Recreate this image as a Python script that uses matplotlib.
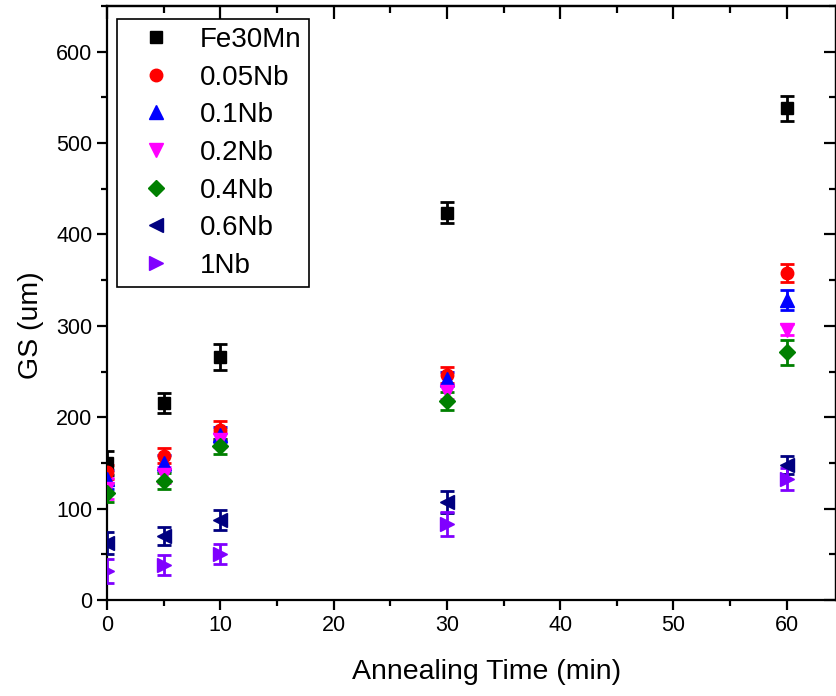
import matplotlib
matplotlib.use('Agg')
import matplotlib.pyplot as plt
from matplotlib.ticker import MultipleLocator

plt.rcParams['font.family'] = ['Liberation Sans', 'DejaVu Sans']

# temps de recuit (min)
times = [0, 5, 10, 30, 60]

# taille de grain (um) et barres d'erreur
labels = ['Fe30Mn', '0.05Nb', '0.1Nb', '0.2Nb', '0.4Nb', '0.6Nb', '1Nb']
gs_fe30mn = [150, 216, 266, 424, 538]
err_fe30mn = [13, 11, 14, 11, 14]
gs_005nb = [140, 158, 186, 246, 358]
err_005nb = [8, 8, 10, 9, 10]
gs_01nb = [132, 150, 181, 242, 328]
err_01nb = [10, 9, 8, 8, 11]
gs_02nb = [122, 137, 175, 228, 296]
err_02nb = [12, 9, 8, 8, 6]
gs_04nb = [117, 130, 168, 218, 271]
err_04nb = [10, 9, 8, 10, 14]
gs_06nb = [62, 70, 88, 107, 148]
err_06nb = [12, 10, 11, 12, 10]
gs_1nb = [32, 38, 50, 83, 132]
err_1nb = [13, 11, 11, 13, 12]

series = [gs_fe30mn, gs_005nb, gs_01nb, gs_02nb, gs_04nb, gs_06nb, gs_1nb]
errors = [err_fe30mn, err_005nb, err_01nb, err_02nb, err_04nb, err_06nb, err_1nb]
colors = ['black', '#FF0000', '#0000FF', '#FF00FF', '#008000', '#000080', '#8000FF']
markers = ['s', 'o', '^', 'v', 'D', '<', '>']
sizes = [8.5, 9, 9.5, 9.5, 8, 9.5, 9.5]

fig = plt.figure(figsize=(8.37, 6.96), dpi=100)
ax = fig.add_axes([107/837, 96/696, 729/837, 594/696])

for y, e, c, m, s, lab in zip(series, errors, colors, markers, sizes, labels):
    ax.errorbar(times, y, yerr=e, fmt=m, color=c, ms=s, capsize=5,
                capthick=2, elinewidth=2, label=lab, zorder=3)

ax.set_xlim(0, 64.35)
ax.set_ylim(0, 650)
ax.xaxis.set_major_locator(MultipleLocator(10))
ax.xaxis.set_minor_locator(MultipleLocator(5))
ax.yaxis.set_major_locator(MultipleLocator(100))
ax.yaxis.set_minor_locator(MultipleLocator(50))

for sp in ax.spines.values():
    sp.set_linewidth(1.6)
ax.tick_params(which='both', direction='out', width=1.6, labelsize=15.5,
               top=False, right=False)
ax.tick_params(which='major', length=7)
ax.tick_params(which='minor', length=4)

# ticks intérieurs en haut et à droite
ax2 = ax.secondary_xaxis('top')
ax2.xaxis.set_major_locator(MultipleLocator(10))
ax2.xaxis.set_minor_locator(MultipleLocator(5))
ax2.tick_params(which='both', direction='in', width=1.6, labeltop=False)
ax2.tick_params(which='major', length=9)
ax2.tick_params(which='minor', length=5)
ax2.spines['top'].set_linewidth(1.6)
ax3 = ax.secondary_yaxis('right')
ax3.yaxis.set_major_locator(MultipleLocator(100))
ax3.yaxis.set_minor_locator(MultipleLocator(50))
ax3.tick_params(which='both', direction='in', width=1.6, labelright=False)
ax3.tick_params(which='major', length=9)
ax3.tick_params(which='minor', length=5)
ax3.spines['right'].set_linewidth(1.6)

ax.set_xlabel('Annealing Time (min)', fontsize=20.5)
ax.set_ylabel('GS (um)', fontsize=20.5)
ax.xaxis.set_label_coords(0.521, -0.099)
ax.yaxis.set_label_coords(-0.086, 0.463)

# légende sans barres d'erreur
handles, labs = ax.get_legend_handles_labels()
handles = [h[0] for h in handles]
leg = ax.legend(handles, labs, loc='upper left', bbox_to_anchor=(0.0137, 0.978),
                borderaxespad=0, fontsize=20, numpoints=1, handlelength=2.23,
                handletextpad=0.47, labelspacing=0.42, borderpad=0.28,
                fancybox=False, framealpha=1, edgecolor='black')
leg.get_frame().set_linewidth(1.2)

fig.savefig('out.png', dpi=100)
